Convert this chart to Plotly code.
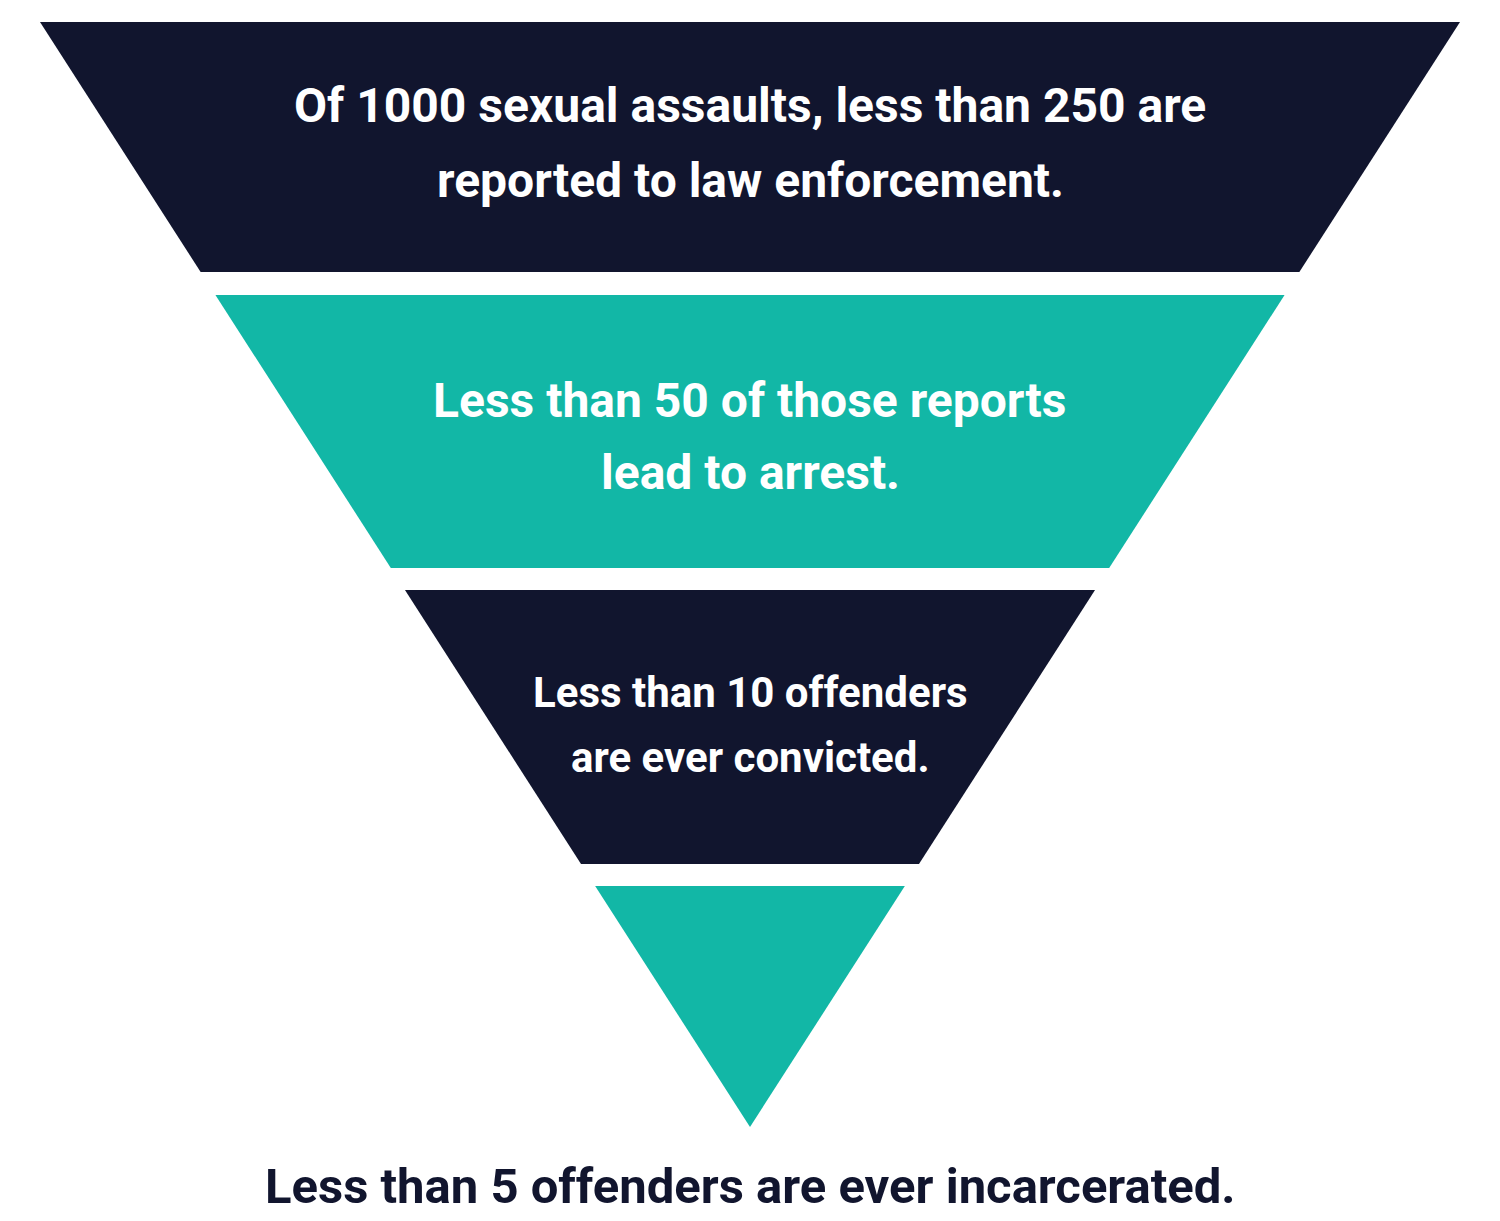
import plotly.graph_objects as go

stage_lines = [
    ["Of 1000 sexual assaults, less than 250 are", "reported to law enforcement."],
    ["Less than 50 of those reports", "lead to arrest."],
    ["Less than 10 offenders", "are ever convicted."],
    [],
]
bottom_label = "Less than 5 offenders are ever incarcerated."
stage_colors = ["#11152e", "#12b7a6", "#11152e", "#12b7a6"]

# geometry (pixel-like coordinates)
W, H = 1500, 1221
OFF = 8  # page body margin compensation
top_y, apex_y = 22, 1127
left_top, right_top, apex_x = 40, 1460, 750
bands = [(22, 272), (295, 568), (590, 864), (886, 1127)]
line_ys = [(105, 180), (400, 472), (692, 757)]
font_sizes = [48, 48, 42]
line_gap = [74, 72, 65]

def edge_x(y):
    t = (y - top_y) / (apex_y - top_y)
    return left_top + t * (apex_x - left_top), right_top - t * (right_top - apex_x)

fig = go.Figure()
for i, ((y0, y1), col, lines) in enumerate(zip(bands, stage_colors, stage_lines)):
    l0, r0 = edge_x(y0)
    l1, r1 = edge_x(y1)
    fig.add_trace(go.Scatter(x=[l0, r0, r1, l1, l0], y=[y0, y0, y1, y1, y0],
                             fill="toself", fillcolor=col, mode="lines",
                             line=dict(width=0, color=col), hoverinfo="skip", showlegend=False))
    for j, ln in enumerate(lines):
        fig.add_annotation(x=750, y=line_ys[i][j], text=ln, showarrow=False,
                           font=dict(family="Roboto", size=font_sizes[i], color="white", weight="bold"))

fig.add_annotation(x=750, y=1186, text=bottom_label, showarrow=False,
                   font=dict(family="Roboto", size=49, color="#11152e", weight="bold"))

fig.update_xaxes(range=[OFF, W + OFF], visible=False)
fig.update_yaxes(range=[H + OFF, OFF], visible=False)
fig.update_layout(width=W, height=H, margin=dict(l=0, r=0, t=0, b=0),
                  plot_bgcolor="white", paper_bgcolor="white")
fig.write_html("out.html")
